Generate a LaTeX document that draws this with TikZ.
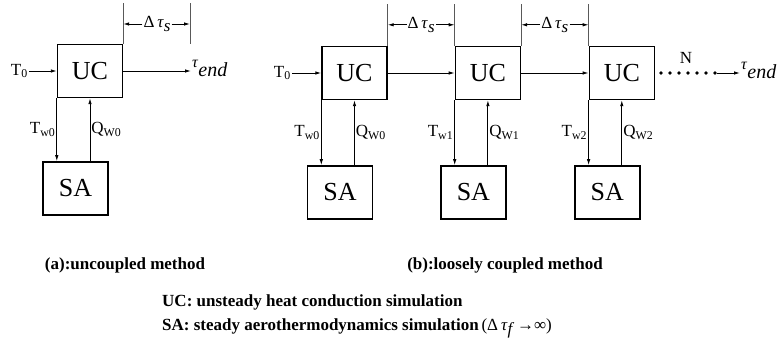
\documentclass[tikz,border=0pt]{standalone}
\usepackage{fontspec}
\setmainfont{Liberation Serif}
\usetikzlibrary{arrows.meta,positioning,calc}
\newcommand{\dtau}[1]{Δ\,\textit{τ}\raisebox{-4pt}{\textit{#1}}}
\newcommand{\tauend}{\raisebox{3pt}{\fontsize{16}{16}\selectfont\textit{τ}}\raisebox{-6pt}{\fontsize{20}{20}\selectfont\textit{end}}}

\begin{document}
\begin{tikzpicture}[
  x=1pt, y=-1pt,
  blk/.style = {
    rectangle, draw, line width=1.4pt, inner sep=0pt,
    minimum width=65pt, minimum height=53pt,
    font=\fontsize{26}{26}\selectfont
  },
  arr/.style = {-{Latex[length=6pt,width=3.5pt]}, line width=0.9pt},
  lbl/.style = {font=\fontsize{17}{17}\selectfont, inner sep=1pt},
  sep/.style = {draw=black!65, line width=0.8pt},
  captxt/.style = {font=\bfseries\fontsize{17}{17}\selectfont, inner sep=0pt}
]
\useasboundingbox (0,0) rectangle (781,358);

% (a) metodo desacoplado
\node[blk] (ucA) at (90,71) {UC};
\node[blk, below=63pt of ucA, xshift=-14.5pt] (saA) {SA};
\node[lbl, anchor=east] (t0A) at (29,71) {T\textsubscript{0}};
\node[lbl, anchor=west] (endA) at (191,68) {\tauend};
\draw[arr] (t0A) -- (ucA);
\draw[arr] (ucA.east) -- (ucA.east -| endA.west);
\draw[arr] (ucA.south west) -- (ucA.south west |- saA.north)
  node[midway, lbl, left] {T\textsubscript{w0}};
\draw[arr] (ucA.south |- saA.north) -- (ucA.south)
  node[midway, lbl, right] {Q\textsubscript{W0}};

% paso de tiempo
\coordinate (mA) at (190,44);
\draw[sep] (ucA.north east) -- ++(0,-41) coordinate (lA0);
\draw[sep] (mA) -- ++(0,-41) coordinate (lA1);
\node[lbl] (dsA) at (157,24) {\dtau{s}};
\draw[arr] (dsA.west) -- (dsA.west -| lA0);
\draw[arr] (dsA.east) -- (dsA.east -| lA1);

% (b) metodo debilmente acoplado
\node[blk] (uc0) at (354.5,73) {UC};
\node[blk, right=67pt of uc0] (uc1) {UC};
\node[blk, right=67.5pt of uc1] (uc2) {UC};
\foreach \k in {0,1,2}
  \node[blk, below=65pt of uc\k, xshift=-14.5pt] (sa\k) {SA};

\node[lbl, anchor=east] (t0B) at (292,73) {T\textsubscript{0}};
\draw[arr] (t0B) -- (uc0);
\draw[arr] (uc0) -- (uc1);
\draw[arr] (uc1) -- (uc2);

\foreach \k in {0,1,2} {
  \draw[arr] (uc\k.south west) -- (uc\k.south west |- sa\k.north)
    node[midway, lbl, left] {T\textsubscript{w\k}};
  \draw[arr] (uc\k.south |- sa\k.north) -- (uc\k.south)
    node[midway, lbl, right] {Q\textsubscript{W\k}};
}

% pasos de tiempo
\draw[sep] (uc0.north east) -- ++(0,-42);
\draw[sep] (uc1.north west) -- ++(0,-42);
\draw[sep] (uc1.north east) -- ++(0,-42);
\draw[sep] (uc2.north west) -- ++(0,-42);
\node[lbl] (ds0) at ($(uc0.north east)!0.5!(uc1.north west)+(0,-21)$) {\dtau{s}};
\node[lbl] (ds1) at ($(uc1.north east)!0.5!(uc2.north west)+(0,-21)$) {\dtau{s}};
\draw[arr] (ds0.west) -- (ds0.west -| uc0.east);
\draw[arr] (ds0.east) -- (ds0.east -| uc1.west);
\draw[arr] (ds1.west) -- (ds1.west -| uc1.east);
\draw[arr] (ds1.east) -- (ds1.east -| uc2.west);

% N pasos
\foreach \i in {0,...,6}
  \fill ($(uc2.east)+(6+9*\i,0)$) circle (1.9pt);
\coordinate (dend) at ($(uc2.east)+(62,0)$);
\node[lbl] (nN) at ($(uc2.east)+(31,-15)$) {N};
\node[lbl, anchor=west] (endB) at (740,70) {\tauend};
\draw[arr] (dend) -- (dend -| endB.west);

% leyenda
\node[captxt] (capA) at (125,265) {(a):uncoupled method};
\node[captxt] (capB) at (505,265) {(b):loosely coupled method};
\node[captxt, anchor=west] (keyUC) at (162,302) {UC: unsteady heat conduction simulation};
\node[captxt, anchor=west] (keySA) at (162,328)
  {SA: steady aerothermodynamics simulation\,\textnormal{(\dtau{f}\,→∞)}};

\end{tikzpicture}
\end{document}
